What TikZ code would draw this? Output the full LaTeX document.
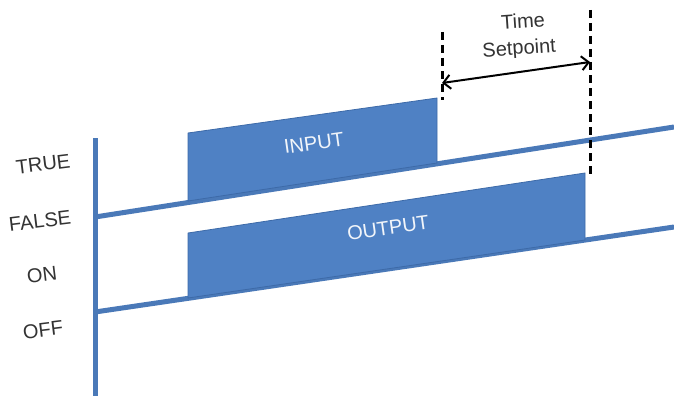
\documentclass[tikz,border=0pt]{standalone}
\usepackage{fontspec}
\setmainfont{Liberation Sans}
\usetikzlibrary{arrows.meta,calc,positioning}
\definecolor{signalblue}{HTML}{4F81C4}
\definecolor{wireblue}{HTML}{4A79B8}
\definecolor{edgeblue}{HTML}{3D6AA8}
\definecolor{labelgray}{HTML}{333333}
\tikzset{
  axisbar/.style={wireblue, line width=5pt},
  sigline/.style={wireblue, line width=5pt},
  pulse/.style={fill=signalblue, draw=edgeblue, line width=0.8pt, line join=round},
  statelabel/.style={labelgray, font=\fontsize{20}{22}\selectfont, rotate=7, inner sep=0pt},
  pulselabel/.style={white!92!signalblue, font=\fontsize{20}{22}\selectfont, rotate=8, inner sep=0pt},
  marker/.style={black, line width=3pt, dash pattern=on 8pt off 5pt},
  span/.style={black, line width=2pt, {Straight Barb[length=7pt,width=14pt]}-{Straight Barb[length=7pt,width=14pt]}}
}

\begin{document}
\begin{tikzpicture}[x=1pt,y=-1pt]
  \useasboundingbox[fill=white] (0,0) rectangle (674,396);
  % time axis and signal levels
  \draw[axisbar] (95,138) -- (95,396);
  \coordinate (upA) at (95,217);
  \coordinate (upB) at (674,127);
  \coordinate (loA) at (95,312);
  \coordinate (loB) at (674,227);
  \draw[sigline] (upA) -- (upB);
  \draw[sigline] (loA) -- (loB);
  % pulses
  \draw[pulse] (188,201) -- (188,133) -- (437,98) -- (437,163) -- cycle;
  \draw[pulse] (188,298) -- (188,233) -- (585,173) -- (585,240) -- cycle;
  \node[pulselabel] (lblinput) at (314,143) {INPUT};
  \node[pulselabel] (lbloutput) at (388,228) {OUTPUT};
  % state labels
  \node[statelabel] (lbltrue) at (43,164) {TRUE};
  \node[statelabel] (lblfalse) at (40,221) {FALSE};
  \node[statelabel] (lblon) at (42,275) {ON};
  \node[statelabel] (lbloff) at (43,330) {OFF};
  % time setpoint
  \coordinate (markL) at (442,32);
  \coordinate (markR) at (590,10);
  \draw[marker] (markL) -- (442,100);
  \draw[marker] (markR) -- (590,177);
  \coordinate (spanL) at (442,83);
  \coordinate (spanR) at (590,62);
  \draw[span] (spanL) -- (spanR);
  \node[statelabel, rotate=-3] (lbltime) at (523,21) {Time};
  \node[statelabel, rotate=-3, below=11pt of lbltime.south, anchor=north, xshift=-5pt] (lblsetpoint) {Setpoint};
\end{tikzpicture}
\end{document}
